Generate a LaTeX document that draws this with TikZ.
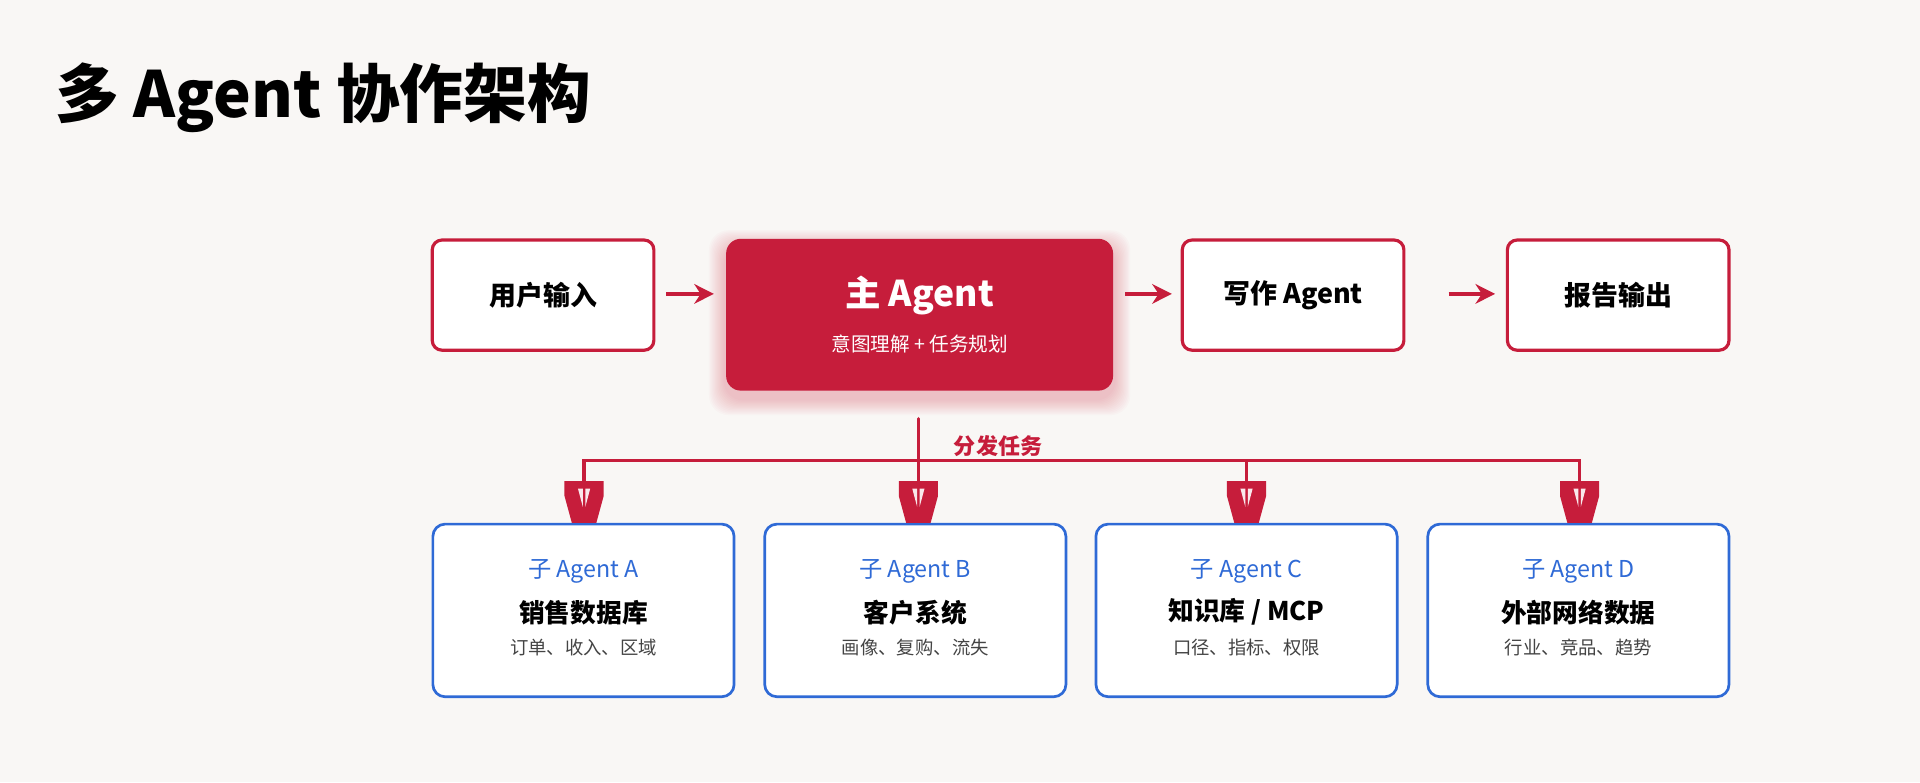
\documentclass[tikz,border=0pt]{standalone}
\usepackage{fontspec}
\setmainfont{Noto Sans CJK SC}
\usetikzlibrary{arrows.meta}
\definecolor{bg}{HTML}{F9F7F5}
\definecolor{crim}{HTML}{C61D3B}
\definecolor{blu}{HTML}{2F6AD6}
\definecolor{gr}{HTML}{444444}
\begin{document}
\begin{tikzpicture}[x=0.5pt,y=-0.5pt,
 wbox/.style={draw=crim,line width=1.3pt,rounded corners=4pt,fill=white,minimum width=90.5pt,minimum height=45pt,font=\bfseries\fontsize{11}{13}\selectfont},
 sbox/.style={draw=blu,line width=1.1pt,rounded corners=5pt,fill=white,minimum width=123pt,minimum height=70.5pt},
 arr/.style={crim,line width=1.6pt,-{Stealth[length=8pt,width=8pt]}},
 ln/.style={crim,line width=1.5pt}]
\fill[bg] (0,0) rectangle (1568,639);
\useasboundingbox (0,0) rectangle (1568,639);
\node[anchor=west,font=\bfseries\fontsize{26}{30}\selectfont] (title) at (38,80) {多 Agent 协作架构};
\node[wbox] (in) at (443.5,241) {用户输入};
\foreach \r in {2,...,14}{
 \fill[crim,opacity=0.018,rounded corners=8pt] (593-\r,202-\r) rectangle (909+\r,325+\r);
}
\node[fill=crim,rounded corners=6pt,minimum width=158pt,minimum height=62pt] (main) at (751,257) {};
\node[white,font=\bfseries\fontsize{14.5}{16}\selectfont] (mt) at (751,241) {主 Agent};
\node[white,font=\fontsize{8}{10}\selectfont] (ms) at (751,281) {意图理解 + 任务规划};
\node[wbox] (wr) at (1056,241) {写作 Agent};
\node[wbox] (out) at (1321.5,241) {报告输出};
\coordinate (a1) at (544,240); \coordinate (a2) at (919,240); \coordinate (a3) at (1183,240);
\draw[arr] (a1) -- (583,240);
\draw[arr] (a2) -- (957,240);
\draw[arr] (a3) -- (1221,240);
\foreach \n/\x/\t/\m/\s in {A/476.5/子 Agent A/销售数据库/订单、收入、区域, B/747.5/子 Agent B/客户系统/画像、复购、流失, C/1018/子 Agent C/{知识库 / MCP}/口径、指标、权限, D/1289/子 Agent D/外部网络数据/行业、竞品、趋势}{
 \node[sbox] (s\n) at (\x,498.5) {};
 \node[blu,font=\fontsize{9.5}{11}\selectfont] (s\n t) at (\x,467) {\t};
 \node[font=\bfseries\fontsize{10.5}{12}\selectfont] (s\n m) at (\x,500) {\m};
 \node[gr,font=\fontsize{7.5}{9}\selectfont] (s\n s) at (\x,529) {\s};
}
\coordinate (top) at (750,342); \coordinate (j) at (750,376);
\draw[ln,line cap=round] (top) -- (j);
\draw[ln] (477,393) |- (1290,376) -- (1290,393);
\foreach \x in {477,750,1018,1290}{
 \draw[ln] (\x,376) -- (\x,393);
 \fill[crim] (\x-16,393) -- (\x+16,393) -- (\x+16,405) -- (\x+10,427) -- (\x-10,427) -- (\x-16,405) -- cycle;
 \fill[white!90!crim] (\x-5,399) -- (\x-1,399) -- (\x-1,414) -- cycle;
 \fill[white!90!crim] (\x+5,399) -- (\x+1,399) -- (\x+1,414) -- cycle;
}
\node[crim,anchor=west,font=\bfseries\fontsize{9}{10}\selectfont] (lab) at (772,364) {分发任务};
\end{tikzpicture}
\end{document}
